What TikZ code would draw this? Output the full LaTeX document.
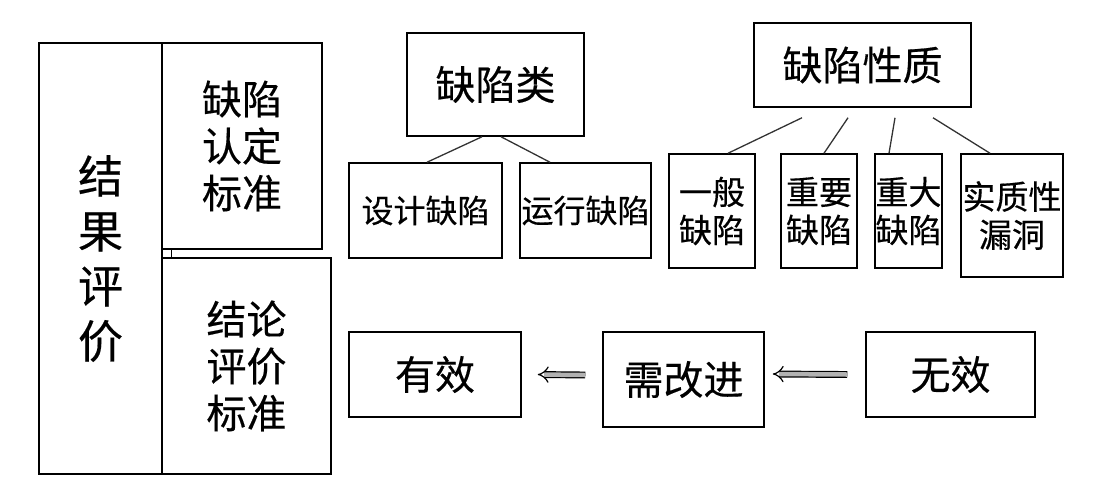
\documentclass[tikz,border=0pt]{standalone}
\usepackage{fontspec}
\newfontfamily\cjk[FakeBold=0.4]{Noto Sans CJK SC}
\usetikzlibrary{arrows.meta}
\tikzset{
  box/.style={draw=black, line width=1.5pt, rectangle, inner sep=0pt, align=center, text=black},
  fbig/.style={font=\cjk\fontsize{45}{55}\selectfont},
  fmid/.style={font=\cjk\fontsize{40}{47}\selectfont},
  fsub/.style={font=\cjk\fontsize{32}{38}\selectfont},
  fsml/.style={font=\cjk\fontsize{33}{38}\selectfont},
  link/.style={draw=black!80, line width=1.3pt},
  dblarrow/.style={line width=1.2pt, double=black!30, double distance=4.5pt, -{Implies}},
}
\begin{document}
\begin{tikzpicture}[x=1pt, y=-1pt]
\useasboundingbox (0,0) rectangle (1102,491);
% left column
\node[box, fbig, minimum width=123pt, minimum height=431pt] (res) at (100.5,258.5) {结\\果\\评\\价};
\node[box, fmid, minimum width=160pt, minimum height=206pt] (std1) at (242,146) {缺陷\\认定\\标准};
\node[box, fmid, minimum width=169pt, minimum height=216pt] (std2) at (246.5,366) {结论\\评价\\标准};
\draw[line width=1.3pt] ([xshift=10pt]std1.south west) -- ([xshift=10pt]std2.north west);
% defect classes
\node[box, fmid, minimum width=177pt, minimum height=103pt] (cls) at (495.5,84.5) {缺陷类};
\node[box, fsub, minimum width=153pt, minimum height=95pt] (d1) at (425.5,210.5) {设计缺陷};
\node[box, fsub, minimum width=131pt, minimum height=95pt] (d2) at (585.5,210.5) {运行缺陷};
\draw[link] ([xshift=-13.5pt]cls.south) -- ([xshift=1.5pt]d1.north);
\draw[link] ([xshift=5.5pt]cls.south) -- ([xshift=-35.5pt]d2.north);
% defect nature
\node[box, fmid, minimum width=217pt, minimum height=84pt] (nat) at (862.5,65) {缺陷性质};
\node[box, fsml, minimum width=86pt, minimum height=114pt] (g1) at (712,211) {一般\\缺陷};
\node[box, fsml, minimum width=76pt, minimum height=114pt] (g2) at (819,211) {重要\\缺陷};
\node[box, fsml, minimum width=67pt, minimum height=114pt] (g3) at (908.5,211) {重大\\缺陷};
\node[box, fsml, minimum width=102pt, minimum height=123pt] (g4) at (1012,215.5) {实质性\\漏洞};
\draw[link] ([xshift=-60.5pt,yshift=-10pt]nat.south) -- ([xshift=16pt]g1.north);
\draw[link] ([xshift=-14.5pt,yshift=-10pt]nat.south) -- ([xshift=5pt]g2.north);
\draw[link] ([xshift=32.5pt,yshift=-10pt]nat.south) -- ([xshift=-19.5pt]g3.north);
\draw[link] ([xshift=70.5pt,yshift=-10pt]nat.south) -- ([xshift=-22pt]g4.north);
% conclusions
\node[box, fmid, minimum width=172pt, minimum height=85pt] (eff) at (435,374.5) {有效};
\node[box, fmid, minimum width=161pt, minimum height=95pt] (imp) at (683.5,379.5) {需改进};
\node[box, fmid, minimum width=169pt, minimum height=85pt] (ineff) at (950.5,374.5) {无效};
\draw[dblarrow] ([xshift=-17pt,yshift=4.5pt]imp.west) -- ([xshift=16pt]eff.east);
\draw[dblarrow] ([xshift=-18pt]ineff.west) -- ([xshift=8pt,yshift=5.5pt]imp.east);
\end{tikzpicture}
\end{document}
